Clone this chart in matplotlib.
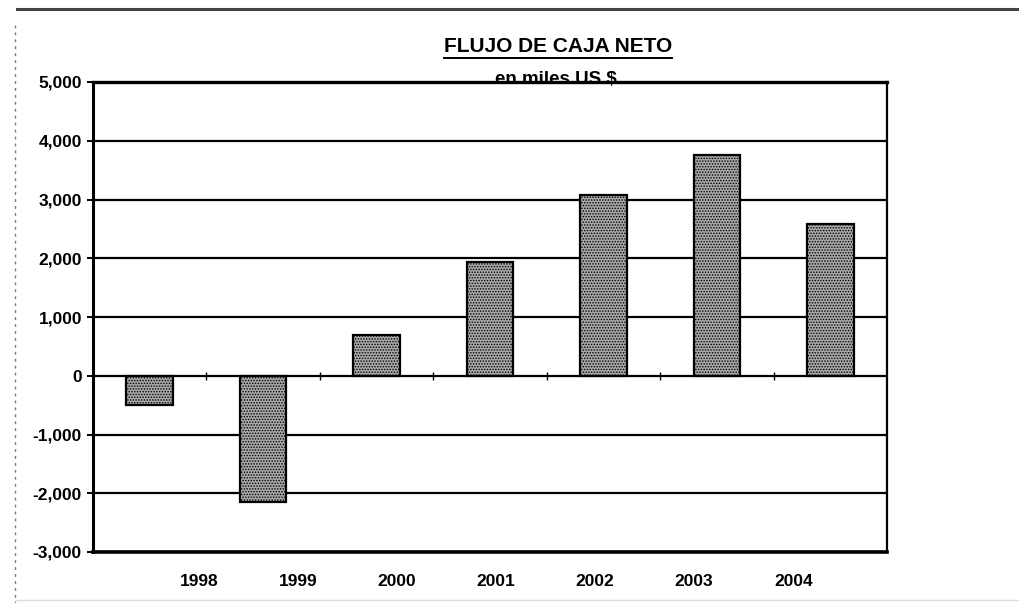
import numpy as np
import matplotlib
matplotlib.use('Agg')
import matplotlib.pyplot as plt
from matplotlib.ticker import FuncFormatter

########## data (miles US $)
years = ['1998', '1999', '2000', '2001', '2002', '2003', '2004']
flujo = [-500, -2150, 700, 1930, 3080, 3760, 2580]
yticks = [-3000, -2000, -1000, 0, 1000, 2000, 3000, 4000, 5000]

plt.rcParams['font.family'] = ['Liberation Sans', 'DejaVu Sans']
plt.rcParams['hatch.color'] = '#444444'
plt.rcParams['hatch.linewidth'] = 0.7

fig = plt.figure(figsize=(10.19, 6.03), dpi=100)
ax = fig.add_axes([93/1019, 51/603, 794/1019, 470/603])

x = np.arange(len(years))
ax.bar(x, flujo, width=0.41, color='#a8a8a8', edgecolor='black', linewidth=1.6,
       hatch='......', zorder=3)

ax.set_xlim(-0.5, len(years) - 0.5)
ax.set_ylim(-3000, 5000)

# horizontal grid lines
for v in yticks:
    ax.axhline(v, color='black', lw=1.6, zorder=1)

# zero line with little ticks between categories
ax.axhline(0, color='black', lw=1.4, zorder=2)
ax.vlines(x[:-1] + 0.5, -70, 70, color='black', lw=1.0, zorder=2)

ax.set_yticks(yticks)
ax.yaxis.set_major_formatter(FuncFormatter(lambda v, p: '{:,.0f}'.format(v)))
ax.tick_params(axis='y', length=4, width=1.4, pad=4, labelsize=12.5)
for t in ax.get_yticklabels():
    t.set_fontweight('bold')

# year labels sit shifted against the bars, like in the scanned original
ax.set_xticks(0.435 + 0.873 * x)
ax.set_xticklabels(years, fontsize=12.5, fontweight='bold')
ax.tick_params(axis='x', length=0, pad=16)

for side, w in [('left', 2.2), ('bottom', 2.6), ('right', 1.6), ('top', 2.4)]:
    ax.spines[side].set_linewidth(w)

# titles
title = fig.text(558/1019, 1 - 47/603, 'FLUJO DE CAJA NETO', ha='center', va='center',
                 fontsize=15, fontweight='bold')
fig.text(556/1019, 1 - 80/603, 'en miles US $', ha='center', va='center',
         fontsize=13.5, fontweight='bold')

fig.canvas.draw()
bb = title.get_window_extent().transformed(fig.transFigure.inverted())
fig.add_artist(plt.Line2D([bb.x0, bb.x1], [1 - 58/603, 1 - 58/603], color='black', lw=1.4))

# page border bits from the scan
fig.add_artist(plt.Line2D([17/1019, 1.0], [1 - 9/603, 1 - 9/603], color='#444444', lw=2.2))
fig.add_artist(plt.Line2D([15/1019, 15/1019], [1 - 25/603, 0.0], color='#777777', lw=1.0,
                          ls=(0, (2, 3))))
fig.add_artist(plt.Line2D([15/1019, 1.0], [1 - 600/603, 1 - 600/603], color='#dddddd', lw=1.0))

fig.savefig('out.png', dpi=100)
